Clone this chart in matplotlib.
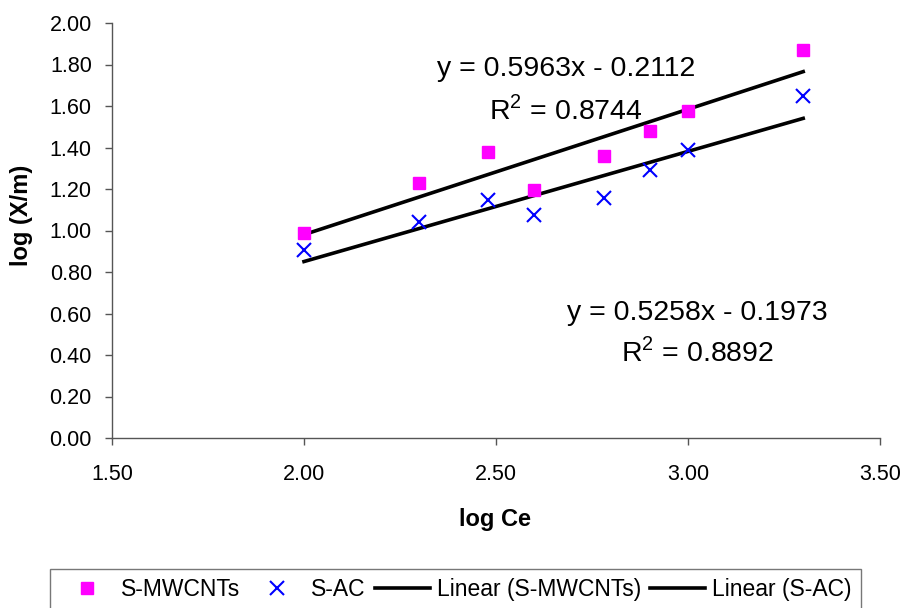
import numpy as np
import matplotlib
matplotlib.use("Agg")
import matplotlib.pyplot as plt

plt.rcParams['font.family'] = ['Liberation Sans', 'DejaVu Sans']
plt.rcParams['mathtext.fontset'] = 'custom'
plt.rcParams['mathtext.rm'] = 'Liberation Sans'

# log Ce values
log_ce = [2.00, 2.30, 2.48, 2.60, 2.78, 2.90, 3.00, 3.30]
# log (X/m) values
mwcnt = [0.99, 1.23, 1.38, 1.195, 1.36, 1.48, 1.575, 1.87]
sac = [0.905, 1.04, 1.147, 1.075, 1.155, 1.29, 1.388, 1.648]

eq_mwcnt = ("y = 0.5963x - 0.2112", r"R$^{\mathregular{2}}$ = 0.8744")
eq_sac = ("y = 0.5258x - 0.1973", r"R$^{\mathregular{2}}$ = 0.8892")

fs = 15.5
axcol = '#555555'

fig = plt.figure(figsize=(9.07, 6.08), dpi=100)
ax = fig.add_axes([112 / 907, 1 - 438 / 608, 768 / 907, 415 / 608])

x = np.array(log_ce)
ax.plot(x, mwcnt, 's', color='#FF00FF', markersize=8.5, label='S-MWCNTs', zorder=3)
ax.plot(x, sac, 'x', color='#0000FF', markersize=10.5, markeredgewidth=1.5, label='S-AC', zorder=3)

xf = np.array([x.min(), x.max()])
p1 = np.polyfit(x, mwcnt, 1)
p2 = np.polyfit(x, sac, 1)
ax.plot(xf, np.polyval(p1, xf), '-', color='black', lw=2.6, label='Linear (S-MWCNTs)')
ax.plot(xf, np.polyval(p2, xf), '-', color='black', lw=2.6, label='Linear (S-AC)')

efs = 20.5
ax.text(2.682, 1.778, eq_mwcnt[0], ha='center', va='center', fontsize=efs)
ax.text(2.682, 1.581, eq_mwcnt[1], ha='center', va='center', fontsize=efs)
ax.text(3.025, 0.602, eq_sac[0], ha='center', va='center', fontsize=efs)
ax.text(3.025, 0.414, eq_sac[1], ha='center', va='center', fontsize=efs)

ax.set_xlim(1.5, 3.5)
ax.set_ylim(0, 2.0)
ax.set_xticks(np.arange(1.5, 3.51, 0.5))
ax.set_yticks(np.arange(0, 2.01, 0.2))
ax.xaxis.set_major_formatter(matplotlib.ticker.FormatStrFormatter('%.2f'))
ax.yaxis.set_major_formatter(matplotlib.ticker.FormatStrFormatter('%.2f'))
ax.tick_params(axis='x', direction='out', length=5, width=1, color=axcol, pad=14, labelsize=fs)
ax.tick_params(axis='y', direction='out', length=5, width=1, color=axcol, pad=9.5, labelsize=fs)
for s in ['top', 'right']:
    ax.spines[s].set_visible(False)
for s in ['left', 'bottom']:
    ax.spines[s].set_color(axcol)
    ax.spines[s].set_linewidth(1)

ax.set_xlabel('log Ce', fontsize=17, fontweight='bold')
ax.set_ylabel('log (X/m)', fontsize=17, fontweight='bold')
ax.xaxis.set_label_coords(0.499, -0.169)
ax.yaxis.set_label_coords(-0.103, 0.537)

leg = fig.legend(loc='upper left', bbox_to_anchor=(50 / 907, 1 - 569 / 608), ncol=4,
                 fontsize=16.5, frameon=True, fancybox=False, handlelength=2.4,
                 handletextpad=0.3, columnspacing=0.4, borderpad=0.4,
                 borderaxespad=0)
leg.get_frame().set_edgecolor(axcol)
leg.get_frame().set_linewidth(1)

fig.savefig('out.png', dpi=100)
